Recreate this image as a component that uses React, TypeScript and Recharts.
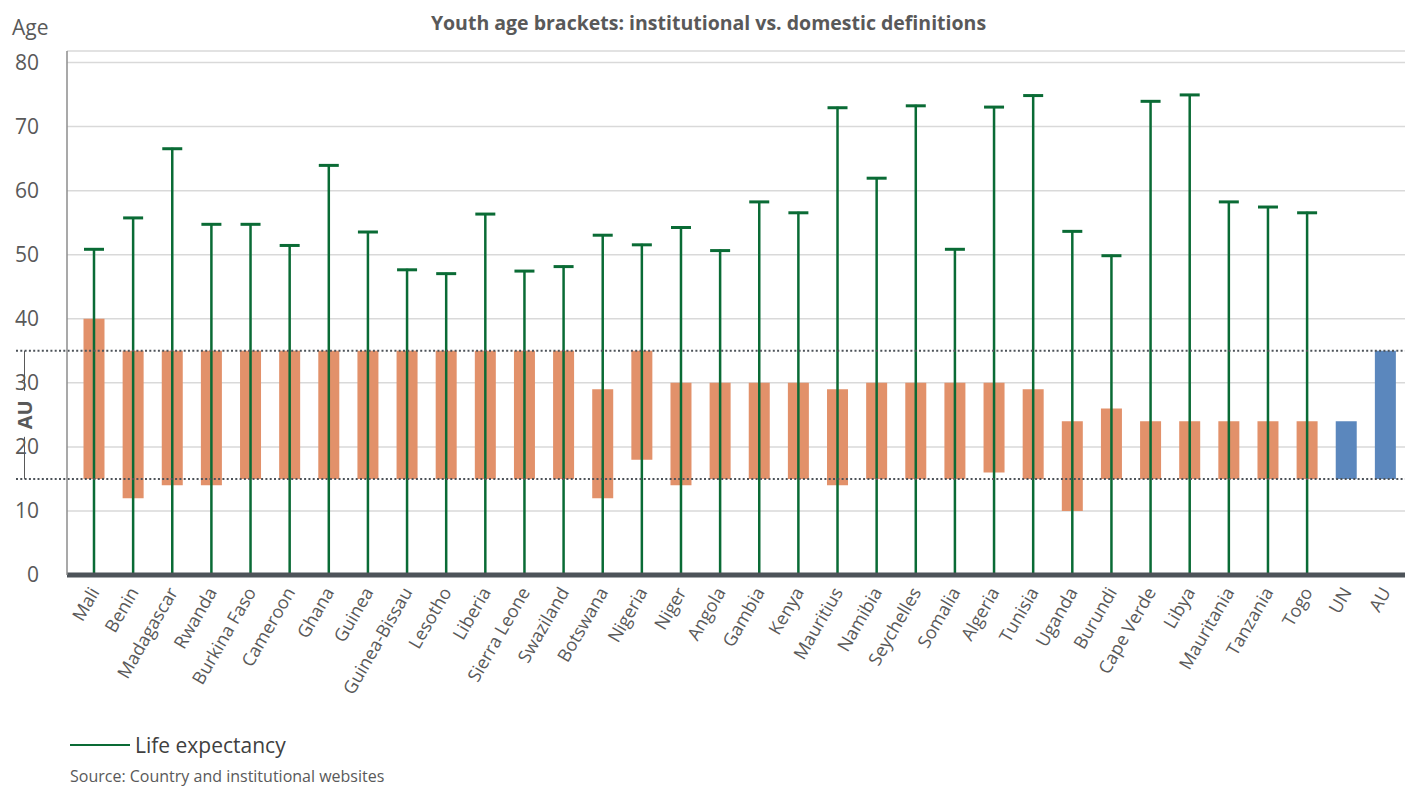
import React from "react";
import {
  ComposedChart,
  Bar,
  Cell,
  XAxis,
  YAxis,
  CartesianGrid,
  ReferenceLine,
  ReferenceArea,
} from "recharts";

// categories along the x axis
const countries = [
  "Mali", "Benin", "Madagascar", "Rwanda", "Burkina Faso", "Cameroon", "Ghana",
  "Guinea", "Guinea-Bissau", "Lesotho", "Liberia", "Sierra Leone", "Swaziland",
  "Botswana", "Nigeria", "Niger", "Angola", "Gambia", "Kenya", "Mauritius",
  "Namibia", "Seychelles", "Somalia", "Algeria", "Tunisia", "Uganda", "Burundi",
  "Cape Verde", "Libya", "Mauritania", "Tanzania", "Togo", "UN", "AU",
];

// youth bracket, lower and upper age
const youthFrom = [
  15, 12, 14, 14, 15, 15, 15, 15, 15, 15, 15, 15, 15, 12, 18, 14, 15, 15, 15, 14,
  15, 15, 15, 16, 15, 10, 15, 15, 15, 15, 15, 15, 15, 15,
];
const youthTo = [
  40, 35, 35, 35, 35, 35, 35, 35, 35, 35, 35, 35, 35, 29, 35, 30, 30, 30, 30, 29,
  30, 30, 30, 30, 29, 24, 26, 24, 24, 24, 24, 24, 24, 35,
];

// life expectancy (none for UN / AU)
const lifeExpectancy = [
  51.0, 55.9, 66.7, 54.9, 54.9, 51.6, 64.1, 53.7, 47.8, 47.2, 56.5, 47.6, 48.3,
  53.2, 51.7, 54.4, 50.8, 58.4, 56.7, 73.1, 62.1, 73.4, 51.0, 73.2, 75.0, 53.8,
  50.0, 74.1, 75.1, 58.4, 57.6, 56.7, null, null,
];

const institutions = ["UN", "AU"];
const yTicks = [0, 10, 20, 30, 40, 50, 60, 70, 80];

const ORANGE = "#E2916A";
const BLUE = "#5B87BD";
const GREEN = "#0A6B35";
const DARK = "#4D5359";
const TEXT = "#595959";
const FONT = "'Open Sans', sans-serif";

const data = countries.map((name, i) => ({
  name,
  range: [youthFrom[i], youthTo[i]],
  life: lifeExpectancy[i],
}));

const XTick = ({ x, y, payload }: any) => (
  <text
    transform={`translate(${x + 6}, ${y + 9}) rotate(-60)`}
    textAnchor="end"
    fontSize={18}
    fontFamily={FONT}
    fill={TEXT}
  >
    {payload.value}
  </text>
);

const LifeShape = (props: any) => {
  const { x, y, width, height, payload } = props;
  if (payload.life == null) return null;
  const cx = x + width / 2;
  return (
    <g>
      <line x1={cx} x2={cx} y1={y} y2={y + height} stroke={GREEN} strokeWidth={2.5} />
      <line x1={cx - 10} x2={cx + 10} y1={y + 1} y2={y + 1} stroke={GREEN} strokeWidth={3} />
    </g>
  );
};

const DottedLine = (props: any) => {
  const { x1, x2, y1 } = props;
  return (
    <line
      x1={x1 - 51}
      x2={x2}
      y1={y1}
      y2={y1}
      stroke={DARK}
      strokeWidth={2}
      strokeDasharray="2 2.3"
    />
  );
};

// bracket + "AU" label on the left of the 15-35 band
const AuBracket = (props: any) => {
  const { x, y, height } = props;
  const bx = x - 50;
  const mid = y + height / 2;
  return (
    <g>
      <line x1={bx} x2={bx} y1={y} y2={mid - 24} stroke={TEXT} strokeWidth={1} />
      <line x1={bx} x2={bx} y1={mid + 22} y2={y + height} stroke={TEXT} strokeWidth={1} />
      <text
        transform={`translate(${bx + 7}, ${mid}) rotate(-90)`}
        textAnchor="middle"
        fontSize={20}
        fontWeight="bold"
        fontFamily={FONT}
        fill={TEXT}
      >
        AU
      </text>
    </g>
  );
};

export default function App() {
  return (
    <div
      style={{
        position: "absolute",
        left: 0,
        top: 0,
        width: 1405,
        height: 789,
        background: "#fff",
        fontFamily: FONT,
        overflow: "hidden",
      }}
    >
      <div
        style={{
          position: "absolute",
          top: 9,
          left: 0,
          width: 1417,
          textAlign: "center",
          fontSize: 19.5,
          fontWeight: "bold",
          color: TEXT,
        }}
      >
        Youth age brackets: institutional vs. domestic definitions
      </div>
      <div style={{ position: "absolute", top: 13, left: 12, fontSize: 21, color: TEXT }}>
        Age
      </div>

      <ComposedChart
        width={1405}
        height={789}
        data={data}
        margin={{ top: 51, right: 0, left: 8, bottom: 64 }}
        barGap={-21}
        barSize={21}
      >
        <CartesianGrid vertical={false} stroke="#D9D9D9" strokeWidth={1.5} />
        <ReferenceArea y1={15} y2={35} fill="none" stroke="none" shape={AuBracket} ifOverflow="visible" />
        <XAxis
          dataKey="name"
          interval={0}
          height={150}
          padding={{ left: 7.5, right: 0 }}
          tickLine={false}
          axisLine={{ stroke: DARK, strokeWidth: 5 }}
          tick={<XTick />}
        />
        <YAxis
          domain={[0, 81.8]}
          ticks={yTicks}
          width={59}
          tickLine={false}
          tickMargin={22}
          axisLine={{ stroke: "#8C8C8C", strokeWidth: 1.5 }}
          tick={{ fontSize: 21, fill: TEXT, fontFamily: FONT }}
          allowDataOverflow
        />
        <Bar dataKey="range" isAnimationActive={false}>
          {data.map((d) => (
            <Cell key={d.name} fill={institutions.includes(d.name) ? BLUE : ORANGE} />
          ))}
        </Bar>
        <ReferenceLine y={35} shape={DottedLine} ifOverflow="visible" />
        <ReferenceLine y={15} shape={DottedLine} ifOverflow="visible" />
        <Bar
          dataKey="life"
          name="Life expectancy"
          isAnimationActive={false}
          shape={LifeShape}
        />
      </ComposedChart>

      <div
        style={{
          position: "absolute",
          left: 70,
          top: 731,
          display: "flex",
          alignItems: "center",
          fontSize: 21,
          color: "#404040",
        }}
      >
        <div style={{ width: 60, height: 2.5, background: GREEN, marginRight: 5 }} />
        Life expectancy
      </div>
      <div style={{ position: "absolute", left: 70, top: 765, fontSize: 16, color: TEXT }}>
        Source: Country and institutional websites
      </div>
    </div>
  );
}
